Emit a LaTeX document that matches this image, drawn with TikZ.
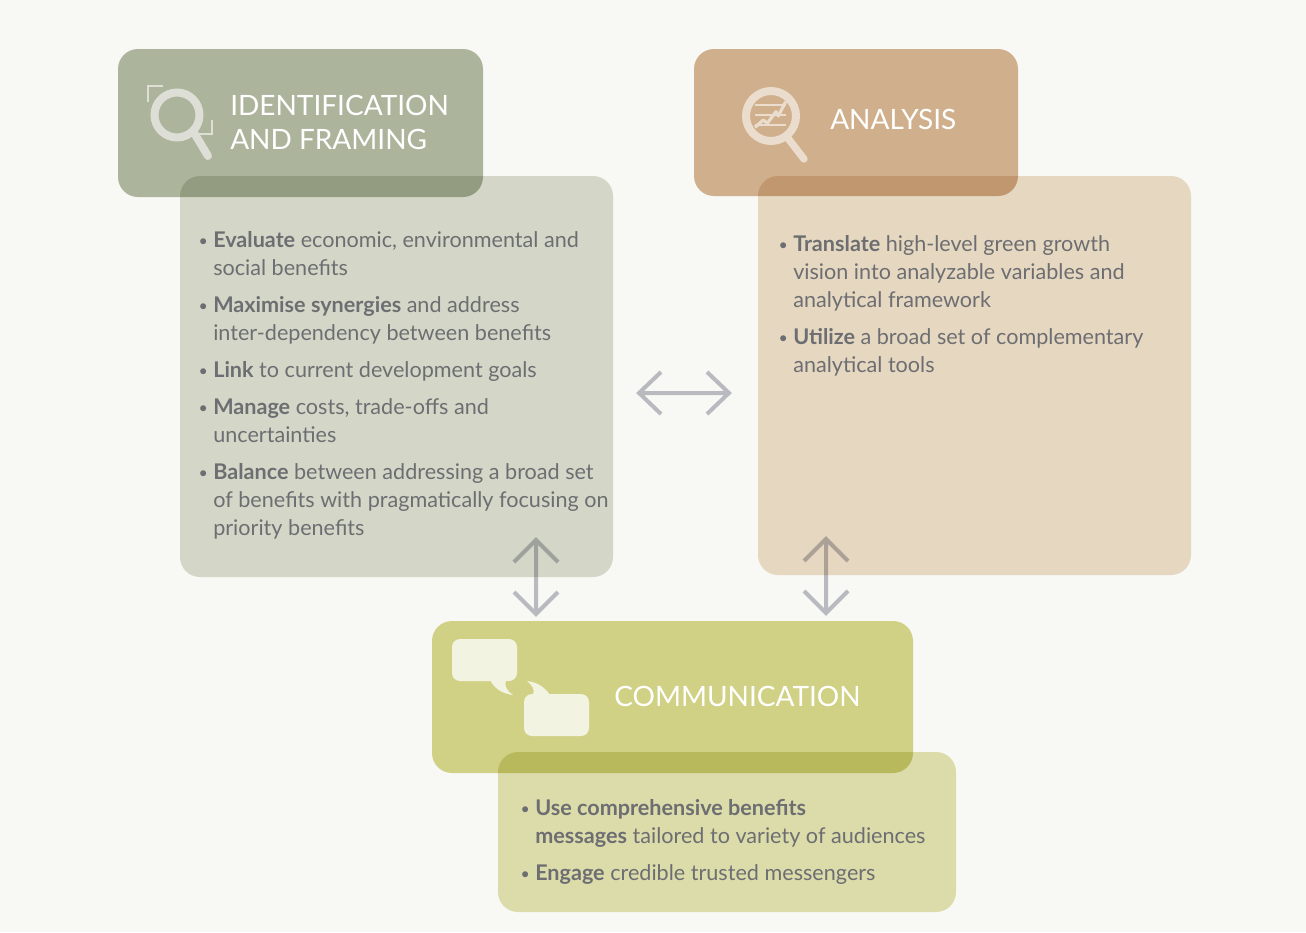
\documentclass[tikz,border=0pt]{standalone}
\usepackage{fontspec}
\setmainfont{Lato}
\definecolor{bgc}{HTML}{F8F8F4}
\definecolor{ifhead}{HTML}{B2BAA4}
\definecolor{ifbody}{HTML}{DADED2}
\definecolor{anhead}{HTML}{D6B493}
\definecolor{anbody}{HTML}{EDDECA}
\definecolor{cmhead}{HTML}{D6D78B}
\definecolor{cmbody}{HTML}{E2E3B2}
\definecolor{arrowc}{HTML}{BFC0C8}
\definecolor{txt}{HTML}{6D6E71}
\definecolor{ificon}{HTML}{DDDED5}
\definecolor{anicon}{HTML}{EBDDCD}
\definecolor{bubble}{HTML}{F3F3E1}
\newcommand\bul{\makebox[11.25pt][l]{\hspace*{0.3pt}\raisebox{0.9pt}{\fontsize{12}{12}\selectfont\textbullet}}}
\newcommand\hng{\hspace*{11.25pt}}
\tikzset{
  panel/.style={rounded corners=15pt, inner sep=0pt, draw=none},
  bodytext/.style={anchor=north west, inner sep=0pt, align=left, text=txt,
    font=\fontsize{16.2}{21}\selectfont},
  titletext/.style={anchor=north west, inner sep=0pt, align=left, text=white,
    font=\fontsize{21}{25.5}\selectfont},
  arrowline/.style={draw=arrowc, line width=3pt, line join=miter, line cap=butt},
}
\begin{document}
\begin{tikzpicture}[x=0.75pt,y=-0.75pt]
\useasboundingbox (0,0) rectangle (1306,932);
\fill[bgc] (0,0) rectangle (1306,932);

\begin{scope}[blend mode=multiply]
  % panels
  \node[panel, fill=ifbody, minimum width=324.75pt, minimum height=300.75pt] (ifbody) at (396.5,376.5) {};
  \node[panel, fill=ifhead, minimum width=273.75pt, minimum height=111pt] (ifhead) at (300.5,123) {};
  \node[panel, fill=anbody, minimum width=324.75pt, minimum height=299.25pt] (anbody) at (974.5,375.5) {};
  \node[panel, fill=anhead, minimum width=243pt, minimum height=110.25pt] (anhead) at (856,122.5) {};
  \node[panel, fill=cmbody, minimum width=343.5pt, minimum height=120pt] (cmbody) at (727,832) {};
  \node[panel, fill=cmhead, minimum width=360.75pt, minimum height=114pt] (cmhead) at (672.5,697) {};
  % arrows
  \coordinate (hL) at (639,393);
  \coordinate (hR) at (729,393);
  \coordinate (v1T) at (536,540);
  \coordinate (v1B) at (536,614);
  \coordinate (v2T) at (826,539);
  \coordinate (v2B) at (826,613);
  \draw[arrowline] (hL) -- (hR)
     (hL) ++(22,-21) -- (hL) -- ++(22,21)
     (hR) ++(-22,-21) -- (hR) -- ++(-22,21);
  \draw[arrowline] (v1T) -- (v1B)
     (v1T) ++(-22,22) -- (v1T) -- ++(22,22)
     (v1B) ++(-22,-22) -- (v1B) -- ++(22,-22);
  \draw[arrowline] (v2T) -- (v2B)
     (v2T) ++(-22,22) -- (v2T) -- ++(22,22)
     (v2B) ++(-22,-22) -- (v2B) -- ++(22,-22);
\end{scope}

% identification icon
\draw[ificon, line width=6pt] (177,115) circle[radius=22.5];
\draw[ificon, line width=6pt, line cap=round] (193,131) -- (208,156);
\draw[ificon, line width=2pt] (163,86) -- (148,86) -- (148,102);
\draw[ificon, line width=2pt] (197,134) -- (212,134) -- (212,120);

% analysis icon
\draw[anicon, line width=6pt] (771,116) circle[radius=25];
\draw[anicon, line width=5.5pt, line cap=round] (787,137) -- (804,159);
\draw[anicon, line width=1.2pt] (755,105) -- (786,105) (755,115) -- (786,115) (755,125) -- (786,125);
\draw[anicon, line width=2.4pt, line join=round] (755,127.3) -- (763.3,120) -- (767.3,123.3) -- (776,111.7) -- (778.3,116) -- (785.7,101.7);

% speech bubbles
\fill[bubble, rounded corners=6pt] (452,639) rectangle (517,681);
\fill[bubble] (490,680) .. controls (496,691) and (505,694) .. (513,695)
   .. controls (507,691) and (504,686) .. (506,680) -- cycle;
\fill[bubble, rounded corners=6pt] (524,694) rectangle (589,736);
\fill[bubble] (550,695) .. controls (544,686) and (536,682) .. (527,681)
   .. controls (532,685) and (535,689) .. (533,695) -- cycle;

% titles
\node[titletext] (iftitle) at (230,91.2) {\strut IDENTIFICATION\\AND FRAMING};
\node[titletext, anchor=base west] (antitle) at (830,129.3) {ANALYSIS};
\node[titletext, anchor=base west] (cmtitle) at (614,706.5) {COMMUNICATION};

% body texts
\node[bodytext] (iftext) at (198,227.4) {\bul\strut\textbf{Evaluate} economic, environmental and\\
  \hng social benefits\\[6.75pt]
  \bul\textbf{Maximise synergies} and address\\
  \hng inter-dependency between benefits\\[6.75pt]
  \bul\textbf{Link} to current development goals\\[6.75pt]
  \bul\textbf{Manage} costs, trade-offs and\\
  \hng uncertainties\\[6.75pt]
  \bul\textbf{Balance} between addressing a broad set\\
  \hng of benefits with pragmatically focusing on\\
  \hng priority benefits};
\node[bodytext] (antext) at (778,231.4) {\bul\strut\textbf{Translate} high-level green growth\\
  \hng vision into analyzable variables and\\
  \hng analytical framework\\[6.75pt]
  \bul\textbf{Utilize} a broad set of complementary\\
  \hng analytical tools};
\node[bodytext] (cmtext) at (520,795.4) {\bul\strut\textbf{Use comprehensive benefits}\\
  \hng\textbf{messages} tailored to variety of audiences\\[6.75pt]
  \bul\textbf{Engage} credible trusted messengers};
\end{tikzpicture}
\end{document}
